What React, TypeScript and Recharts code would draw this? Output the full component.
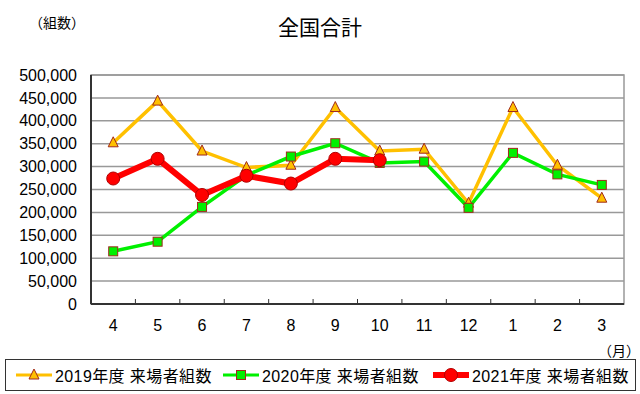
import React from 'react';
import { LineChart, Line, XAxis, YAxis, CartesianGrid, ReferenceArea } from 'recharts';

const months = ['4', '5', '6', '7', '8', '9', '10', '11', '12', '1', '2', '3'];
const fy2019 = [352000, 443000, 334000, 298000, 303000, 429000, 334000, 338000, 220000, 429000, 303000, 231000];
const fy2020 = [115000, 136000, 212000, 281000, 322000, 351000, 308000, 311000, 210000, 330000, 283000, 260000];
const fy2021: (number | null)[] = [274000, 317000, 238000, 280000, 263000, 317000, 314000, null, null, null, null, null];
const yTicks = [0, 50000, 100000, 150000, 200000, 250000, 300000, 350000, 400000, 450000, 500000];

const seriesNames = ['2019年度 来場者組数', '2020年度 来場者組数', '2021年度 来場者組数'];

const data = months.map((m, i) => ({
    month: m,
    fy2019: fy2019[i],
    fy2020: fy2020[i],
    fy2021: fy2021[i],
}));

const FONT = '"Liberation Sans", "Noto Sans CJK JP", sans-serif';
const JP = '"Noto Sans CJK JP", sans-serif';

const W = 640;
const H = 394;
const MARGIN = { top: 75, right: 16, bottom: 60, left: 0 };
const Y_WIDTH = 91;
const BAND = (W - Y_WIDTH - MARGIN.right) / months.length;
const LEGEND_LEFT = [10, 217, 427];

const fmt = (v: number) => String(v).replace(/\B(?=(\d{3})+(?!\d))/g, ',');

const Triangle = (props: any) => {
    const { cx, cy } = props;
    if (cx == null || cy == null) return <g />;
    return <polygon points={`${cx},${cy - 6} ${cx + 5},${cy + 4} ${cx - 5},${cy + 4}`} fill="#ffc000" stroke="#a0291c" strokeWidth={1} />;
};

const Square = (props: any) => {
    const { cx, cy } = props;
    if (cx == null || cy == null) return <g />;
    return <rect x={cx - 4.5} y={cy - 4.5} width={9} height={9} fill="#00f000" stroke="#a0291c" strokeWidth={1} />;
};

const Circle = (props: any) => {
    const { cx, cy } = props;
    if (cx == null || cy == null) return <g />;
    return <circle cx={cx} cy={cy} r={6.5} fill="#ff0000" stroke="#b00000" strokeWidth={1} />;
};

const MonthTick = (props: any) => {
    const { x, y, payload, index } = props;
    return (
        <g>
            {index < months.length - 1 && (
                <line x1={x + BAND / 2} x2={x + BAND / 2} y1={y} y2={y - 5} stroke="#333" strokeWidth={1} />
            )}
            <text x={x} y={y + 27} textAnchor="middle" fontSize={16} fontFamily={FONT} fill="#000">
                {payload.value}
            </text>
        </g>
    );
};

const LegendIcon = ({ kind }: { kind: number }) => (
    <svg width={36} height={16} style={{ display: 'block' }}>
        {kind === 0 && (
            <>
                <line x1={0} x2={36} y1={8} y2={8} stroke="#ffc000" strokeWidth={3} />
                <Triangle cx={18} cy={8} />
            </>
        )}
        {kind === 1 && (
            <>
                <line x1={0} x2={36} y1={8} y2={8} stroke="#00f000" strokeWidth={3} />
                <Square cx={18} cy={8} />
            </>
        )}
        {kind === 2 && (
            <>
                <line x1={0} x2={36} y1={8} y2={8} stroke="#ff0000" strokeWidth={6} />
                <Circle cx={18} cy={8} />
            </>
        )}
    </svg>
);

const App: React.FC = () => {
    return (
        <div style={{ position: 'absolute', left: 0, top: 0, width: W, height: H, background: '#fff' }}>
            <div style={{ position: 'absolute', left: 0, top: 12, width: W, textAlign: 'center', fontSize: 21, fontFamily: JP, color: '#000', lineHeight: '28px' }}>
                全国合計
            </div>
            <div style={{ position: 'absolute', left: 29, top: 12, fontSize: 14, fontFamily: JP, color: '#000', lineHeight: '20px' }}>
                （組数）
            </div>
            <div style={{ position: 'absolute', left: 598, top: 340, fontSize: 14, fontFamily: JP, color: '#000', lineHeight: '20px' }}>
                （月）
            </div>

            <LineChart width={W} height={H} data={data} margin={MARGIN}>
                <CartesianGrid vertical={false} stroke="#999" strokeWidth={1.5} />
                <ReferenceArea y1={0} y2={500000} fill="none" stroke="#999" strokeWidth={1.5} ifOverflow="visible" />
                <XAxis
                    dataKey="month"
                    scale="band"
                    height={30}
                    tickSize={0}
                    tickMargin={0}
                    tickLine={false}
                    axisLine={{ stroke: '#333', strokeWidth: 2 }}
                    tick={<MonthTick />}
                    interval={0}
                />
                <YAxis
                    width={Y_WIDTH}
                    domain={[0, 500000]}
                    ticks={yTicks}
                    interval={0}
                    tickFormatter={fmt}
                    tickSize={0}
                    tickMargin={14}
                    tickLine={false}
                    axisLine={{ stroke: '#333', strokeWidth: 2 }}
                    tick={{ fontSize: 16, fill: '#000', fontFamily: FONT }}
                />
                <Line dataKey="fy2019" name={seriesNames[0]} stroke="#ffc000" strokeWidth={3.5} dot={<Triangle />} activeDot={false} isAnimationActive={false} />
                <Line dataKey="fy2020" name={seriesNames[1]} stroke="#00f000" strokeWidth={3.5} dot={<Square />} activeDot={false} isAnimationActive={false} />
                <Line dataKey="fy2021" name={seriesNames[2]} stroke="#ff0000" strokeWidth={6} dot={<Circle />} activeDot={false} isAnimationActive={false} />
            </LineChart>

            <div
                style={{
                    position: 'absolute', left: 5, top: 359, width: 629, height: 30,
                    border: '1px solid #333', fontFamily: FONT, fontSize: 16, color: '#000',
                    boxSizing: 'content-box',
                }}
            >
                {seriesNames.map((n, i) => (
                    <div key={n} style={{ position: 'absolute', left: LEGEND_LEFT[i], top: 0, height: 30, display: 'flex', alignItems: 'center' }}>
                        <LegendIcon kind={i} />
                        <span style={{ marginLeft: 3, whiteSpace: 'nowrap', letterSpacing: 0.4 }}>{n}</span>
                    </div>
                ))}
            </div>
        </div>
    );
};

export default App;
